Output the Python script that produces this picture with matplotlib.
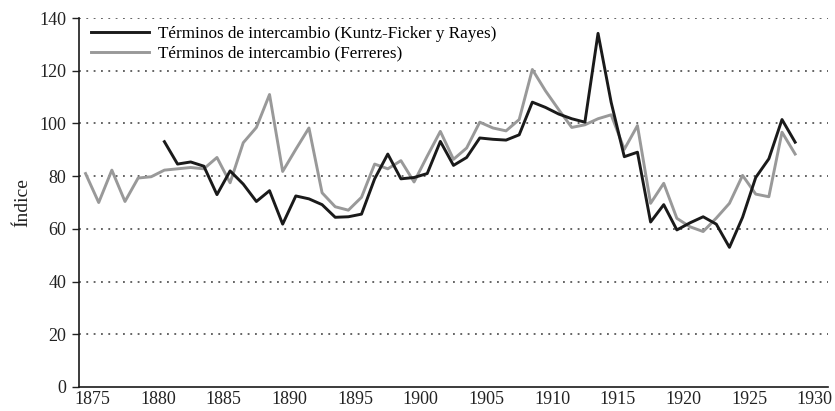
"""Términos de intercambio, 1875-1929."""

import numpy as np
import matplotlib

matplotlib.use("Agg")
import matplotlib.pyplot as plt

years = list(range(1875, 1930))

ferreres = [
    81, 70, 82.3, 70.4, 79.3, 79.8, 82.3, 82.8, 83.3, 82.8,
    87.1, 77.5, 92.7, 98.5, 111, 81.8, 90.2, 98.3, 73.7, 68.4,
    67.1, 72, 84.6, 82.8, 85.9, 77.8, 87.6, 97, 86.4, 90.7,
    100.5, 98.3, 97.2, 101.5, 120.5, 112.4, 105.3, 98.5, 99.5, 101.8,
    103.3, 90.2, 99.2, 69.7, 77.3, 64, 60.8, 59, 64.1, 69.7,
    80.3, 73.2, 72.2, 96.7, 88.4,
]

kuntz = [np.nan] * 6 + [
    93.1, 84.6, 85.4, 83.8, 73, 82, 77, 70.4, 74.5, 61.8,
    72.5, 71.4, 69.2, 64.4, 64.6, 65.6, 79, 88.4, 79, 79.5,
    81, 93.2, 84.1, 87.1, 94.5, 94, 93.7, 95.7, 108.1, 106.1,
    103.6, 101.8, 100.5, 134.2, 108, 87.4, 89.1, 62.6, 69.2, 59.6,
    62.3, 64.6, 61.8, 53, 64.4, 79.5, 86.6, 101.5, 92.9,
]

tick_years = list(range(1875, 1931, 5))
y_ticks = list(range(0, 141, 20))

plt.rcParams["font.family"] = ["Liberation Serif", "DejaVu Serif"]

fig = plt.figure(figsize=(8.35, 4.11), dpi=100)
ax = fig.add_axes([0.0946, 0.0584, 0.897, 0.8976])

for y in y_ticks[1:]:
    ax.axhline(y, color="#3a3a3a", linewidth=1.1,
               linestyle=(0, (1.2, 3.6)), zorder=1)

ax.plot(years, kuntz, color="#1a1a1a", linewidth=2.1, zorder=3,
        label="Términos de intercambio (Kuntz-Ficker y Rayes)")
ax.plot(years, ferreres, color="#999999", linewidth=2.1, zorder=2,
        label="Términos de intercambio (Ferreres)")

ax.set_xlim(1874.5, 1931.5)
ax.set_ylim(0, 140)
ax.set_xticks([y + 0.5 for y in tick_years])
ax.set_xticklabels([str(y) for y in tick_years])
ax.set_yticks(y_ticks)
ax.tick_params(axis="x", length=0, pad=3, labelsize=13, colors="#222222")
ax.tick_params(axis="y", length=5, width=1, pad=4, labelsize=13,
               colors="#222222")
ax.set_ylabel("Índice", fontsize=14, color="#222222", labelpad=6)

for side in ("top", "right"):
    ax.spines[side].set_visible(False)
for side in ("left", "bottom"):
    ax.spines[side].set_linewidth(1.2)
    ax.spines[side].set_color("#1a1a1a")

ax.legend(loc="upper left", bbox_to_anchor=(0.0, 1.012), frameon=False,
          fontsize=12.3, handlelength=3.4, handletextpad=0.5,
          labelspacing=0.25, borderaxespad=0.3)

fig.savefig("out.png", dpi=100)
plt.close(fig)
